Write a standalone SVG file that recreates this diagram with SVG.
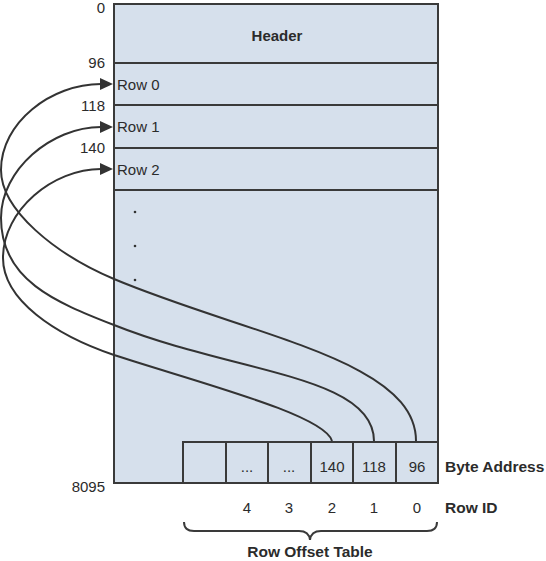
<svg xmlns="http://www.w3.org/2000/svg" width="546" height="561" viewBox="0 0 546 561">
<style>
text{font-family:"Liberation Sans",Arial,sans-serif;font-size:15px;fill:#2b2b2b}
.b{font-weight:bold}
.l{font-size:15.5px}
.r{text-anchor:end}
.m{text-anchor:middle}
.box{fill:#d6e0ec;stroke:#3a3a3a;stroke-width:2}
.ln{stroke:#3a3a3a;stroke-width:2;fill:none}
.cv{stroke:#333;stroke-width:2;fill:none;marker-end:url(#ah)}
</style>
<defs>
<marker id="ah" markerUnits="userSpaceOnUse" markerWidth="14" markerHeight="12" refX="1" refY="6" orient="auto">
<path d="M0,0 L13,6 L0,12 z" fill="#333"/>
</marker>
</defs>
<g id="page">
<rect class="box" x="114" y="4" width="324" height="479"/>
<line class="ln" x1="114" y1="63" x2="438" y2="63"/>
<line class="ln" x1="114" y1="105" x2="438" y2="105"/>
<line class="ln" x1="114" y1="148" x2="438" y2="148"/>
<line class="ln" x1="114" y1="190" x2="438" y2="190"/>
<text class="b m" x="277" y="41">Header</text>
<text x="117" y="90">Row 0</text>
<text x="117" y="132">Row 1</text>
<text x="117" y="175">Row 2</text>
<circle cx="135" cy="212" r="1.3" fill="#333"/>
<circle cx="135" cy="246" r="1.3" fill="#333"/>
<circle cx="135" cy="280" r="1.3" fill="#333"/>
</g>
<g id="offsets">
<text class="r" x="105" y="13">0</text>
<text class="r" x="105" y="68">96</text>
<text class="r" x="105" y="111">118</text>
<text class="r" x="105" y="153">140</text>
<text class="r" x="105" y="492">8095</text>
</g>
<g id="table">
<rect class="box" x="183" y="442" width="255" height="41"/>
<line class="ln" x1="226" y1="442" x2="226" y2="483"/>
<line class="ln" x1="268" y1="442" x2="268" y2="483"/>
<line class="ln" x1="311" y1="442" x2="311" y2="483"/>
<line class="ln" x1="353" y1="442" x2="353" y2="483"/>
<line class="ln" x1="396" y1="442" x2="396" y2="483"/>
<text class="m" x="247" y="472">...</text>
<text class="m" x="289" y="472">...</text>
<text class="m" x="332" y="472">140</text>
<text class="m" x="374" y="472">118</text>
<text class="m" x="417" y="472">96</text>
<text class="b l" x="445" y="472">Byte Address</text>
<text class="m" x="247" y="513">4</text>
<text class="m" x="289" y="513">3</text>
<text class="m" x="332" y="513">2</text>
<text class="m" x="374" y="513">1</text>
<text class="m" x="417" y="513">0</text>
<text class="b l" x="445" y="513">Row ID</text>
<path class="ln" d="M184,522 Q184,531 194,531 L299,531 Q309,531 310,540 Q311,531 321,531 L427,531 Q437,531 437,522"/>
<text class="b l m" x="310" y="557">Row Offset Table</text>
</g>
<g id="connectors">
<path class="cv" d="M416,441 C416,360 250,336 114,279 C55,254 1,210 1,170 C1,122.5 51,84 101,84"/>
<path class="cv" d="M374,441 C374,375 234,373 114,325 C55,302 1,280 1,218 C1,170 51,127 101,127"/>
<path class="cv" d="M332,441 C325,415 200,383 114,355 C55,335 3,300 3,258 C3,210 53,169 101,169"/>
</g>
</svg>
